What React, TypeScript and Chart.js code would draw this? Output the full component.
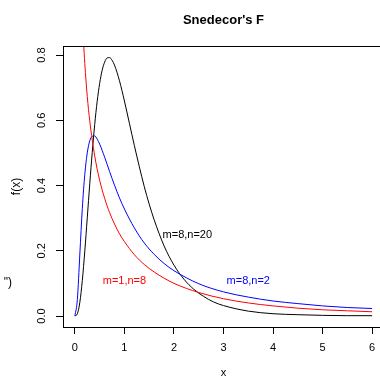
import React, { useEffect, useRef } from "react";
import { Chart, registerables } from "chart.js";

Chart.register(...registerables);

// F(1,8) density
const xRed = [0.05, 0.1, 0.15, 0.175, 0.2, 0.25, 0.3, 0.4, 0.5, 0.6, 0.7, 0.8, 0.9, 1.0, 1.2, 1.4, 1.6, 1.8, 2.0, 2.5, 3.0, 3.5, 4.0, 4.5, 5.0, 5.5, 6.0];
const yRed = [1.682, 1.156, 0.918, 0.839, 0.774, 0.673, 0.598, 0.491, 0.416, 0.361, 0.317, 0.282, 0.252, 0.228, 0.188, 0.158, 0.135, 0.116, 0.100, 0.072, 0.053, 0.040, 0.031, 0.024, 0.019, 0.016, 0.013];

// F(8,2) density
const xBlue = [0, 0.05, 0.1, 0.15, 0.2, 0.25, 0.3, 0.35, 0.4, 0.45, 0.5, 0.6, 0.7, 0.8, 0.9, 1.0, 1.2, 1.4, 1.6, 1.8, 2.0, 2.5, 3.0, 3.5, 4.0, 4.5, 5.0, 5.5, 6.0];
const yBlue = [0, 0.051, 0.190, 0.330, 0.434, 0.500, 0.537, 0.551, 0.552, 0.542, 0.527, 0.487, 0.443, 0.401, 0.362, 0.328, 0.270, 0.224, 0.189, 0.161, 0.139, 0.099, 0.074, 0.058, 0.046, 0.038, 0.031, 0.026, 0.023];

// F(8,20) density
const xBlack = [0, 0.05, 0.1, 0.15, 0.2, 0.25, 0.3, 0.35, 0.4, 0.45, 0.5, 0.55, 0.6, 0.65, 0.7, 0.75, 0.8, 0.9, 1.0, 1.1, 1.2, 1.3, 1.4, 1.5, 1.6, 1.8, 2.0, 2.2, 2.4, 2.6, 2.8, 3.0, 3.5, 4.0, 4.5, 5.0, 5.5, 6.0];
const yBlack = [0, 0.007, 0.042, 0.109, 0.199, 0.301, 0.405, 0.501, 0.587, 0.658, 0.713, 0.753, 0.778, 0.791, 0.792, 0.784, 0.769, 0.721, 0.659, 0.591, 0.523, 0.458, 0.397, 0.343, 0.295, 0.215, 0.156, 0.113, 0.082, 0.060, 0.043, 0.032, 0.015, 0.007, 0.004, 0.002, 0.001, 0.001];

const xTicks = [0, 1, 2, 3, 4, 5, 6];
const yTicks = [0, 0.2, 0.4, 0.6, 0.8];

const seriesNames = ["m=1,n=8", "m=8,n=2", "m=8,n=20"];
const seriesColors = ["#ff0000", "#0000ff", "#000000"];
// where each curve's label sits, in data units
const labelX = [1.0, 3.5, 2.27];
const labelY = [0.107, 0.107, 0.248];

const titleText = "Snedecor's F";
const xTitle = "x";
const yTitle = "f(x)";
const strayText = "\")";

const FONT = "'Liberation Sans', Arial, Helvetica, sans-serif";

export default function App() {
  const ref = useRef<HTMLCanvasElement>(null);

  useEffect(() => {
    const canvas = ref.current;
    if (!canvas) return;

    const overlay = {
      id: "overlay",
      afterDraw(chart: any) {
        const ctx = chart.ctx;
        const { left, right, top, bottom } = chart.chartArea;
        const xs = chart.scales.x;
        const ys = chart.scales.y;
        ctx.save();
        // top and right border of the box
        ctx.strokeStyle = "#000";
        ctx.lineWidth = 1;
        ctx.beginPath();
        ctx.moveTo(left, Math.round(top) + 0.5);
        ctx.lineTo(right, Math.round(top) + 0.5);
        ctx.lineTo(right, bottom);
        ctx.stroke();

        ctx.fillStyle = "#000";
        // title
        ctx.font = `bold 13px ${FONT}`;
        ctx.textAlign = "center";
        ctx.textBaseline = "middle";
        ctx.fillText(titleText, (left + right) / 2, 20);

        // x tick labels
        ctx.font = `11px ${FONT}`;
        xTicks.forEach((v) => {
          ctx.fillText(String(v), xs.getPixelForValue(v), 348);
        });
        // y tick labels (rotated)
        yTicks.forEach((v) => {
          ctx.save();
          ctx.translate(42, ys.getPixelForValue(v));
          ctx.rotate(-Math.PI / 2);
          ctx.fillText(v.toFixed(1), 0, 0);
          ctx.restore();
        });

        // axis titles
        ctx.font = `11px ${FONT}`;
        ctx.fillText(xTitle, (left + right) / 2, 373);
        ctx.save();
        ctx.translate(17, (top + bottom) / 2);
        ctx.rotate(-Math.PI / 2);
        ctx.font = `12px ${FONT}`;
        ctx.fillText(yTitle, 0, 0);
        ctx.restore();

        // curve labels
        ctx.font = `11px ${FONT}`;
        seriesNames.forEach((name, i) => {
          ctx.fillStyle = seriesColors[i];
          ctx.fillText(name, xs.getPixelForValue(labelX[i]), ys.getPixelForValue(labelY[i]));
        });

        // stray clipped text at the left edge
        ctx.fillStyle = "#000";
        ctx.font = `12px ${FONT}`;
        ctx.textAlign = "right";
        ctx.fillText(strayText, 12, 283);
        ctx.restore();
      },
    };

    const mk = (xv: number[], yv: number[], color: string) => ({
      data: xv.map((x, i) => ({ x, y: yv[i] })),
      borderColor: color,
      backgroundColor: color,
      borderWidth: 1,
      pointRadius: 0,
      fill: false,
      cubicInterpolationMode: "monotone" as const,
    });

    const axisCommon = {
      grid: {
        display: true,
        drawOnChartArea: false,
        drawTicks: true,
        tickLength: 7,
        color: "#000",
        lineWidth: 1,
      },
      border: { display: true, color: "#000", width: 1 },
    };

    const chart = new Chart(canvas, {
      type: "line",
      data: {
        datasets: [
          mk(xRed, yRed, seriesColors[0]),
          mk(xBlue, yBlue, seriesColors[1]),
          mk(xBlack, yBlack, seriesColors[2]),
        ],
      },
      options: {
        responsive: false,
        animation: false,
        devicePixelRatio: 1,
        layout: { padding: { top: 46, left: 0, right: 6, bottom: 0 } },
        plugins: {
          legend: { display: false },
          tooltip: { enabled: false },
          title: { display: false },
        },
        scales: {
          x: {
            type: "linear",
            min: -0.24,
            max: 6.24,
            ticks: { display: false, stepSize: 1, includeBounds: false },
            afterFit: (s: any) => {
              s.height = 51;
            },
            ...axisCommon,
          },
          y: {
            type: "linear",
            min: -0.0337,
            max: 0.8276,
            ticks: { display: false, stepSize: 0.2, includeBounds: false },
            afterFit: (s: any) => {
              s.width = 63;
            },
            ...axisCommon,
          },
        },
      },
      plugins: [overlay],
    });

    return () => chart.destroy();
  }, []);

  return (
    <div style={{ position: "absolute", left: 0, top: 0, width: 380, height: 378, overflow: "hidden", background: "#fff" }}>
      <canvas ref={ref} width={390} height={378} style={{ display: "block" }} />
    </div>
  );
}
